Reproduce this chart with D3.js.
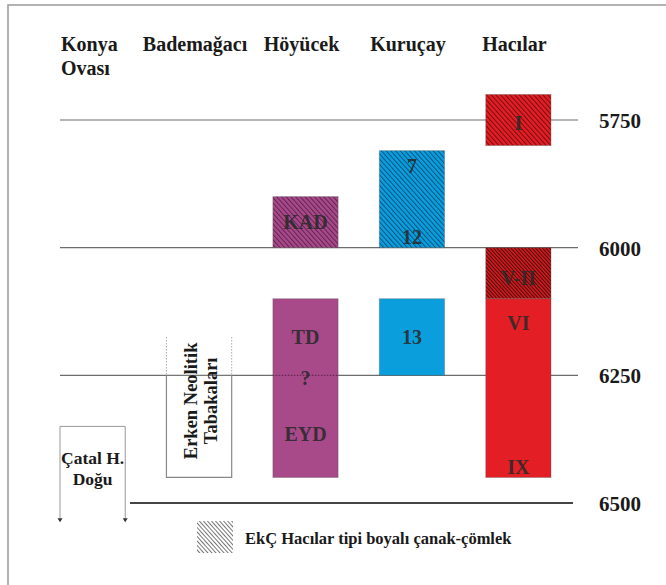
<!DOCTYPE html>
<html>
<head>
<meta charset="utf-8">
<script src="https://cdn.jsdelivr.net/npm/d3@7"></script>
<style>
  body { margin: 0; background: #fff; }
  svg text { font-family: 'Liberation Serif', serif; font-weight: 700; }
</style>
</head>
<body>
<div id="chart"></div>
<script>
// sites (columns) and their header lines
var sites = ["Konya Ovası", "Bademağacı", "Höyücek", "Kuruçay", "Hacılar"];
var headers = [["Konya", "Ovası"], ["Bademağacı"], ["Höyücek"], ["Kuruçay"], ["Hacılar"]];

// date ticks (BC)
var ticks = [5750, 6000, 6250, 6500];

// phase blocks: site, start, end, kind
var blockSite  = ["Höyücek", "Höyücek", "Kuruçay", "Kuruçay", "Hacılar", "Hacılar", "Hacılar"];
var blockFrom  = [5900, 6100, 5810, 6100, 5700, 6000, 6100];
var blockTo    = [6000, 6450, 6000, 6250, 5800, 6100, 6450];
var blockKind  = ["purpleH", "purple", "blueH", "blue", "redH", "redHD", "red"];

// labels inside the blocks
var labelSite  = ["Höyücek", "Höyücek", "Höyücek", "Höyücek", "Kuruçay", "Kuruçay", "Kuruçay", "Hacılar", "Hacılar", "Hacılar", "Hacılar"];
var labelValue = [5950, 6175, 6255, 6365, 5840, 5980, 6175, 5755, 6060, 6148, 6430];
var labelText  = ["KAD", "TD", "?", "EYD", "7", "12", "13", "I", "V-II", "VI", "IX"];

// Erken Neolitik layers at Bademağacı, Çatal H. Doğu bracket
var erken = [6250, 6450];
var erkenDotted = [6175, 6250];
var catal = [6350, 6530];

var svgWidth = 666;
var svgHeight = 585;

var svg = d3.select("#chart")
  .append("svg")
  .attr("width", svgWidth)
  .attr("height", svgHeight);

var x = d3.scaleBand()
  .domain(sites)
  .range([60, 551])
  .paddingInner(0.387)
  .paddingOuter(0);

var y = d3.scaleLinear()
  .domain([5750, 6500])
  .range([120, 503]);

var fills = { purple: "#a8498a", blue: "#0a9fdc", red: "#e31e25" };

// hatch patterns
var defs = svg.append("defs");
function hatch(id, bg, stroke, op, gap) {
  var p = defs.append("pattern")
    .attr("id", id)
    .attr("patternUnits", "userSpaceOnUse")
    .attr("width", gap)
    .attr("height", gap)
    .attr("patternTransform", "rotate(-42)");
  p.append("rect").attr("width", gap).attr("height", gap).attr("fill", bg);
  p.append("line")
    .attr("x1", 0.5).attr("y1", 0).attr("x2", 0.5).attr("y2", gap)
    .attr("stroke", stroke).attr("stroke-width", 1).attr("stroke-opacity", op);
}
hatch("purpleH", fills.purple, "#3a1030", 0.65, 3.5);
hatch("blueH", fills.blue, "#0a2a50", 0.65, 3.5);
hatch("redH", fills.red, "#3a0505", 0.65, 3.5);
hatch("redHD", "#d01c20", "#2a0303", 0.8, 2.6);
hatch("legendH", "#ffffff", "#555", 0.8, 3);

// outer frame
svg.append("rect")
  .attr("x", 8).attr("y", 5)
  .attr("width", svgWidth).attr("height", svgHeight)
  .attr("fill", "none")
  .attr("stroke", "#999")
  .attr("stroke-width", 1.5);

// column headers
headers.forEach(function(h, i) {
  var first = i === 0;
  var cx = first ? x(sites[i]) + 1 : x(sites[i]) + x.bandwidth() / 2 - 4;
  var t = svg.append("text")
    .attr("x", cx)
    .attr("y", 51)
    .attr("text-anchor", first ? "start" : "middle")
    .style("font-size", "20px")
    .style("fill", "#1a1a1a");
  h.forEach(function(line, j) {
    t.append("tspan")
      .attr("x", cx)
      .attr("dy", j === 0 ? 0 : 24)
      .text(line);
  });
});

// horizontal date lines
var lineColor = "#6d6d6d";
ticks.forEach(function(t) {
  var x0 = t === 6500 ? 130 : 60;
  var x1 = t === 6500 ? 573 : 578;
  svg.append("line")
    .attr("x1", x0).attr("x2", x1)
    .attr("y1", y(t)).attr("y2", y(t))
    .attr("stroke", t === 6500 ? "#444" : lineColor)
    .attr("stroke-width", t === 6500 ? 2 : 1.2);

  svg.append("text")
    .attr("x", 599)
    .attr("y", y(t) + 8)
    .style("font-size", "21px")
    .style("fill", "#1a1a1a")
    .text(t);
});

// Erken Neolitik box (white, open top)
var ex0 = x("Bademağacı"), ex1 = ex0 + x.bandwidth();
svg.append("rect")
  .attr("x", ex0).attr("y", y(erken[0]) + 0.6)
  .attr("width", x.bandwidth()).attr("height", y(erken[1]) - y(erken[0]))
  .attr("fill", "#fff");
svg.append("path")
  .attr("d", "M" + ex0 + "," + y(erken[0]) + "V" + y(erken[1]) + "H" + ex1 + "V" + y(erken[0]))
  .attr("fill", "none")
  .attr("stroke", "#888")
  .attr("stroke-width", 1.2);
[ex0, ex1].forEach(function(xx) {
  svg.append("line")
    .attr("x1", xx).attr("x2", xx)
    .attr("y1", y(erkenDotted[0])).attr("y2", y(erkenDotted[1]))
    .attr("stroke", "#aaa")
    .attr("stroke-width", 1)
    .attr("stroke-dasharray", "1.5,1.5");
});
svg.append("text")
  .attr("transform", "translate(" + (ex0 + 31) + "," + y(6300) + ") rotate(-90)")
  .attr("text-anchor", "middle")
  .style("font-size", "18.5px")
  .style("fill", "#1a1a1a")
  .text("Erken Neolitik");
svg.append("text")
  .attr("transform", "translate(" + (ex0 + 51) + "," + y(6300) + ") rotate(-90)")
  .attr("text-anchor", "middle")
  .style("font-size", "18.5px")
  .style("fill", "#1a1a1a")
  .text("Tabakaları");

// phase blocks
blockSite.forEach(function(s, i) {
  var k = blockKind[i];
  svg.append("rect")
    .attr("x", x(s))
    .attr("y", y(blockFrom[i]))
    .attr("width", x.bandwidth())
    .attr("height", y(blockTo[i]) - y(blockFrom[i]))
    .attr("fill", fills[k] ? fills[k] : "url(#" + k + ")")
    .attr("stroke", "#555")
    .attr("stroke-opacity", 0.35)
    .attr("stroke-width", 1);
});

// dotted 6250 line through Höyücek
svg.append("line")
  .attr("x1", x("Höyücek")).attr("x2", x("Höyücek") + x.bandwidth())
  .attr("y1", y(6250)).attr("y2", y(6250))
  .attr("stroke", "#5a2048")
  .attr("stroke-width", 1)
  .attr("stroke-dasharray", "1.5,1.5");

// block labels
labelText.forEach(function(t, i) {
  svg.append("text")
    .attr("x", x(labelSite[i]) + x.bandwidth() / 2)
    .attr("y", y(labelValue[i]) + 7)
    .attr("text-anchor", "middle")
    .style("font-size", "20px")
    .style("fill", "#2a2a2a")
    .style("fill-opacity", 0.9)
    .text(t);
});

// Çatal H. Doğu bracket
var cx0 = x("Konya Ovası"), cx1 = cx0 + x.bandwidth();
svg.append("path")
  .attr("d", "M" + cx0 + "," + y(catal[1]) + "V" + y(catal[0]) + "H" + cx1 + "V" + y(catal[1]))
  .attr("fill", "none")
  .attr("stroke", "#999")
  .attr("stroke-width", 1);
[cx0, cx1].forEach(function(xx) {
  svg.append("path")
    .attr("d", "M" + (xx - 2.5) + "," + y(catal[1]) + "L" + (xx + 2.5) + "," + y(catal[1]) + "L" + xx + "," + (y(catal[1]) + 4) + "Z")
    .attr("fill", "#333");
});
svg.append("text")
  .attr("x", (cx0 + cx1) / 2)
  .attr("y", y(6350) + 38)
  .attr("text-anchor", "middle")
  .style("font-size", "17.5px")
  .style("fill", "#1a1a1a")
  .text("Çatal H.");
svg.append("text")
  .attr("x", (cx0 + cx1) / 2)
  .attr("y", y(6350) + 59)
  .attr("text-anchor", "middle")
  .style("font-size", "17.5px")
  .style("fill", "#1a1a1a")
  .text("Doğu");

// legend
svg.append("rect")
  .attr("x", 197).attr("y", 521)
  .attr("width", 36).attr("height", 32)
  .attr("fill", "url(#legendH)");
svg.append("text")
  .attr("x", 245)
  .attr("y", 544)
  .style("font-size", "16.5px")
  .style("fill", "#1a1a1a")
  .text("EkÇ Hacılar tipi boyalı çanak-çömlek");
</script>
</body>
</html>
